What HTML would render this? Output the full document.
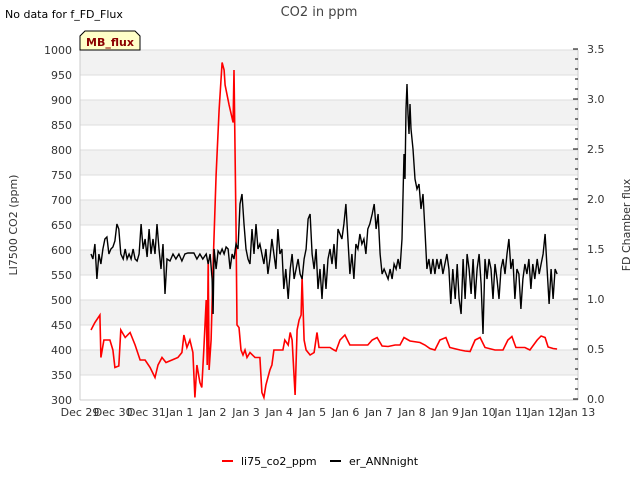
<!DOCTYPE html>
<html><head><meta charset="utf-8"><style>
body{margin:0;background:#fff;font-family:"Liberation Sans","DejaVu Sans",sans-serif}
svg text{font-family:"DejaVu Sans","Liberation Sans",sans-serif}
</style></head><body>
<svg id="c" width="640" height="480" xmlns="http://www.w3.org/2000/svg">
<rect width="640" height="480" fill="#fff"/>
<text x="5" y="18" font-size="11" fill="#000">No data for f_FD_Flux</text>
<text x="319" y="16" font-size="13" fill="#444" text-anchor="middle">CO2 in ppm</text>
<g id="grid"></g><g id="axes"></g><g id="series"></g>
<g>
<path d="M80,50 L80,36 L85,31 L135,31 L140,36 L140,50 Z" fill="#ffffc8" stroke="#000" stroke-width="1"/>
<text x="110" y="46" font-size="11" font-weight="bold" fill="#8b0000" text-anchor="middle">MB_flux</text></g>
<text transform="translate(17,225) rotate(-90)" font-size="11" fill="#333" text-anchor="middle">LI7500 CO2 (ppm)</text>
<text transform="translate(630,225) rotate(-90)" font-size="11" fill="#333" text-anchor="middle">FD Chamber flux</text>
<g>
<g><line x1="222" y1="461" x2="233" y2="461" stroke="#f00" stroke-width="2"/><text x="241" y="465" font-size="11">li75_co2_ppm</text></g>
<g><line x1="330" y1="461" x2="341" y2="461" stroke="#000" stroke-width="2"/><text x="349" y="465" font-size="11">er_ANNnight</text></g>
</g>
</svg>
<script>
const xTickLabels=["Dec 29","Dec 30","Dec 31","Jan 1","Jan 2","Jan 3","Jan 4","Jan 5","Jan 6","Jan 7","Jan 8","Jan 9","Jan 10","Jan 11","Jan 12","Jan 13"];
const yTicks=[300,350,400,450,500,550,600,650,700,750,800,850,900,950,1000];
const y2Ticks=[0,0.5,1.0,1.5,2.0,2.5,3.0,3.5];
const redT=[0.33,0.45,0.60,0.63,0.72,0.90,0.99,1.05,1.17,1.23,1.36,1.51,1.66,1.81,1.96,2.11,2.26,2.35,2.47,2.59,2.77,2.95,3.07,3.13,3.22,3.31,3.40,3.46,3.52,3.61,3.67,3.73,3.80,3.83,3.86,3.89,3.95,4.01,4.10,4.19,4.28,4.34,4.37,4.49,4.61,4.64,4.70,4.73,4.79,4.85,4.91,4.97,5.03,5.12,5.27,5.42,5.48,5.54,5.60,5.72,5.78,5.84,6.02,6.11,6.17,6.27,6.33,6.39,6.48,6.54,6.60,6.66,6.69,6.75,6.81,6.93,7.05,7.14,7.20,7.38,7.53,7.65,7.71,7.83,7.98,8.13,8.43,8.67,8.80,8.95,9.10,9.28,9.49,9.64,9.76,9.94,10.24,10.39,10.54,10.69,10.84,11.02,11.14,11.45,11.60,11.75,11.90,12.05,12.20,12.50,12.74,12.89,13.01,13.13,13.40,13.55,13.77,13.89,14.01,14.10,14.25,14.37];
const redV=[440,455,470,385,420,420,400,365,368,440,425,435,410,380,380,365,345,370,385,375,380,385,395,430,405,420,395,305,370,335,325,400,500,370,580,360,420,570,750,880,975,960,930,890,855,960,650,450,445,400,390,400,385,395,385,385,315,305,330,360,370,400,400,400,420,410,435,420,310,440,460,470,545,420,400,390,395,435,405,405,405,400,398,420,430,410,410,410,420,425,408,407,410,410,425,418,415,410,403,400,420,425,405,400,398,397,420,425,405,400,400,420,427,405,405,400,420,428,425,406,403,402];
const blackT=[0.33,0.39,0.45,0.51,0.57,0.63,0.69,0.75,0.81,0.87,0.93,0.99,1.05,1.11,1.17,1.23,1.30,1.36,1.42,1.48,1.54,1.60,1.66,1.72,1.78,1.84,1.90,1.96,2.02,2.08,2.14,2.20,2.26,2.32,2.38,2.44,2.50,2.56,2.62,2.71,2.80,2.89,2.98,3.07,3.16,3.25,3.34,3.43,3.52,3.61,3.70,3.80,3.86,3.92,3.98,4.01,4.04,4.10,4.16,4.22,4.28,4.34,4.40,4.46,4.52,4.58,4.64,4.70,4.76,4.82,4.88,4.94,5.00,5.06,5.12,5.18,5.24,5.30,5.36,5.42,5.48,5.54,5.60,5.66,5.72,5.78,5.84,5.90,5.96,6.02,6.08,6.14,6.20,6.27,6.33,6.39,6.45,6.51,6.57,6.63,6.69,6.75,6.81,6.87,6.93,6.99,7.05,7.11,7.17,7.23,7.29,7.35,7.41,7.47,7.53,7.59,7.65,7.71,7.77,7.83,7.89,7.95,8.01,8.07,8.13,8.19,8.25,8.31,8.37,8.43,8.49,8.55,8.61,8.67,8.73,8.80,8.86,8.92,8.98,9.04,9.10,9.16,9.22,9.28,9.34,9.40,9.46,9.52,9.58,9.64,9.70,9.76,9.79,9.82,9.85,9.88,9.91,9.94,9.97,10.03,10.09,10.15,10.21,10.27,10.33,10.39,10.45,10.51,10.57,10.63,10.69,10.75,10.81,10.87,10.93,10.99,11.05,11.11,11.17,11.23,11.30,11.36,11.42,11.48,11.54,11.60,11.66,11.72,11.78,11.84,11.90,11.96,12.02,12.08,12.14,12.20,12.26,12.32,12.38,12.44,12.50,12.56,12.62,12.68,12.74,12.80,12.86,12.92,12.98,13.04,13.10,13.16,13.22,13.28,13.34,13.40,13.46,13.52,13.58,13.64,13.70,13.77,13.83,13.89,13.95,14.01,14.07,14.13,14.19,14.25,14.31,14.37];
const blackV=[1.45,1.4,1.55,1.2,1.45,1.35,1.5,1.6,1.62,1.45,1.5,1.52,1.58,1.75,1.7,1.45,1.4,1.5,1.4,1.45,1.4,1.5,1.4,1.38,1.45,1.75,1.5,1.6,1.42,1.7,1.45,1.6,1.45,1.75,1.5,1.3,1.55,1.05,1.4,1.38,1.45,1.4,1.45,1.38,1.45,1.46,1.46,1.46,1.4,1.45,1.4,1.45,1.35,1.45,1.2,0.85,1.5,1.3,1.48,1.45,1.5,1.45,1.52,1.5,1.3,1.45,1.4,1.55,1.5,1.95,2.05,1.75,1.5,1.4,1.35,1.7,1.45,1.75,1.5,1.55,1.45,1.35,1.5,1.25,1.4,1.6,1.45,1.3,1.7,1.45,1.5,1.1,1.3,1.0,1.3,1.45,1.2,1.3,1.4,1.25,1.2,1.4,1.5,1.8,1.85,1.45,1.3,1.5,1.1,1.3,1.0,1.35,1.1,1.4,1.5,1.35,1.55,1.3,1.7,1.65,1.6,1.75,1.95,1.6,1.25,1.45,1.2,1.55,1.5,1.65,1.55,1.6,1.45,1.7,1.75,1.85,1.95,1.7,1.85,1.45,1.25,1.3,1.25,1.2,1.3,1.2,1.35,1.3,1.4,1.3,1.6,2.45,2.2,2.9,3.15,2.85,2.65,2.95,2.7,2.5,2.2,2.1,2.15,1.9,2.05,1.7,1.3,1.4,1.25,1.4,1.25,1.4,1.3,1.4,1.25,1.35,1.45,1.3,0.95,1.3,1.0,1.35,1.0,0.85,1.4,1.0,1.45,1.3,1.05,1.4,1.0,1.3,1.45,1.15,0.65,1.4,1.2,1.4,1.3,1.0,1.35,1.2,1.0,1.3,1.4,1.25,1.45,1.6,1.3,1.4,1.0,1.3,1.25,0.9,1.2,1.35,1.25,1.4,1.1,1.35,1.2,1.4,1.25,1.35,1.45,1.65,1.3,0.95,1.3,1.0,1.3,1.25];
const NS="http://www.w3.org/2000/svg";
const L=80,R=578,T=50,B=400;
const xS=d=>L+(R-L)*d/15;
const yS=v=>B-(B-T)*(v-300)/700;
const y2S=v=>B-1-(B-1-T+1)*v/3.5;
function mk(tag,attrs,parent){const e=document.createElementNS(NS,tag);for(const k in attrs)e.setAttribute(k,attrs[k]);parent.appendChild(e);return e;}
const grid=document.getElementById('grid'),axes=document.getElementById('axes'),ser=document.getElementById('series');
mk('rect',{x:L,y:T,width:R-L,height:B-T,fill:'#fff'},grid);
for(let i=0;i<yTicks.length-1;i++){
  if(i%2===1){const b=mk('rect',{x:L,y:yS(yTicks[i+1]),width:R-L,height:yS(yTicks[i])-yS(yTicks[i+1]),fill:'#f2f2f2'},grid);
  
  }
}
yTicks.forEach(v=>{
  const g=mk('line',{x1:L,x2:R,y1:yS(v),y2:yS(v),stroke:'#ddd','stroke-width':1},grid);
  
  
  const t=mk('text',{x:L-8,y:yS(v)+4,'font-size':11,fill:'#333','text-anchor':'end'},axes);
  t.textContent=v;
  
  
});
mk('line',{x1:L,x2:R,y1:B,y2:B,stroke:'#ccc'},axes);
mk('line',{x1:L,x2:L,y1:T,y2:B,stroke:'#ccc'},axes);
mk('line',{x1:R,x2:R,y1:T,y2:B,stroke:'#ccc'},axes);
for(let k=0;k<=35;k++){const v=k/10;mk('line',{x1:R,x2:R-(k%5===0?5:3),y1:y2S(v),y2:y2S(v),stroke:'#000'},axes);}
y2Ticks.forEach(v=>{
  const t=mk('text',{x:R+9,y:y2S(v)+4,'font-size':11,fill:'#333'},axes);
  t.textContent=v.toFixed(1);
  
  
});
xTickLabels.forEach((s,i)=>{
  const t=mk('text',{x:xS(i),y:B+16,'font-size':11,fill:'#333','text-anchor':'middle'},axes);
  t.textContent=s;
  
  
});
const rp=mk('polyline',{points:redT.map((d,i)=>xS(d).toFixed(1)+','+yS(redV[i]).toFixed(1)).join(' '),fill:'none',stroke:'#f00','stroke-width':1.6},ser);


const bp=mk('polyline',{points:blackT.map((d,i)=>xS(d).toFixed(1)+','+y2S(blackV[i]).toFixed(1)).join(' '),fill:'none',stroke:'#000','stroke-width':1.4},ser);


</script>
</body></html>
